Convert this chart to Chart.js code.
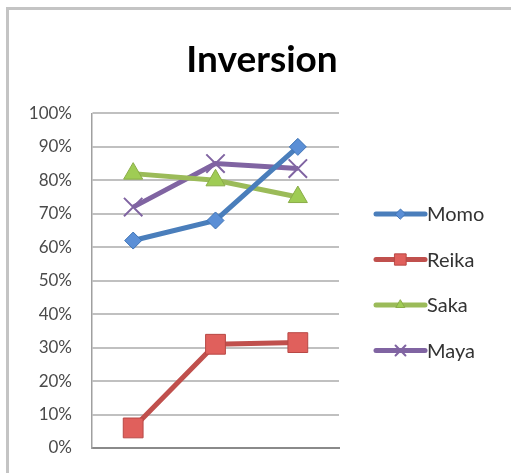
<!DOCTYPE html>
<html>
<head>
<meta charset="utf-8">
<script src="https://cdn.jsdelivr.net/npm/chart.js@4"></script>
<style>
  html, body { margin: 0; padding: 0; background: #fff; overflow: hidden; }
  canvas { display: block; }
</style>
</head>
<body>
<canvas id="c" width="511" height="473"></canvas>
<script>
// Series values (percent) per session
const categories = ['1', '2', '3'];
const momo  = [62, 68, 90];
const reika = [6, 31, 31.5];
const saka  = [82, 80, 75];
const maya  = [72, 85, 83.5];
const yTicks = [0, 10, 20, 30, 40, 50, 60, 70, 80, 90, 100];

const FONT = 'Lato, "Open Sans", sans-serif';

const series = [
  { label: 'Momo',  data: momo,  line: '#4a7ebb', fill: '#5b8fd6', edge: '#3f74b5', style: 'rectRot',  r: 8.5, lr: 5 },
  { label: 'Reika', data: reika, line: '#c0504d', fill: '#e0605c', edge: '#b84845', style: 'rect',     r: 14,  lr: 8 },
  { label: 'Saka',  data: saka,  line: '#9bbb59', fill: '#9fcc54', edge: '#8aac48', style: 'triangle', r: 11,  lr: 5 },
  { label: 'Maya',  data: maya,  line: '#8064a2', fill: '#8064a2', edge: '#8064a2', style: 'crossRot', r: 13,  lr: 7 }
];

// Grey frame along the top and left edges of the chart box
const frame = {
  id: 'frame',
  beforeDraw(chart) {
    const ctx = chart.ctx;
    ctx.save();
    ctx.fillStyle = '#ffffff';
    ctx.fillRect(0, 0, chart.width, chart.height);
    ctx.fillStyle = '#c4c4c4';
    ctx.fillRect(6, 7, chart.width - 6, 3);
    ctx.fillRect(6, 7, 3, chart.height - 7);
    ctx.restore();
  }
};

// Legend on the right: line sample with its marker, then the name
const sideLegend = {
  id: 'sideLegend',
  afterDraw(chart) {
    const ctx = chart.ctx;
    const x0 = 376, x1 = 425, top = 214, step = 45.5;
    chart.data.datasets.forEach((ds, i) => {
      const s = series[i];
      const y = top + i * step;
      ctx.save();
      ctx.strokeStyle = ds.borderColor;
      ctx.lineWidth = 5;
      ctx.lineCap = 'round';
      ctx.beginPath();
      ctx.moveTo(x0, y);
      ctx.lineTo(x1, y);
      ctx.stroke();
      ctx.fillStyle = ds.pointBackgroundColor;
      ctx.strokeStyle = ds.pointBorderColor;
      ctx.lineWidth = s.style === 'crossRot' ? 2 : 1;
      Chart.helpers.drawPoint(ctx, { pointStyle: s.style, radius: s.lr, rotation: 0, borderWidth: ctx.lineWidth }, (x0 + x1) / 2, y);
      ctx.fillStyle = '#333333';
      ctx.font = '20px ' + FONT;
      ctx.textBaseline = 'middle';
      ctx.textAlign = 'left';
      ctx.fillText(ds.label, x1 + 2, y + 1);
      ctx.restore();
    });
  }
};

new Chart(document.getElementById('c'), {
  type: 'line',
  data: {
    labels: categories,
    datasets: series.map(s => ({
      label: s.label,
      data: s.data,
      borderColor: s.line,
      borderWidth: 5,
      pointStyle: s.style,
      pointRadius: s.r,
      pointBackgroundColor: s.fill,
      pointBorderColor: s.edge,
      pointBorderWidth: s.style === 'crossRot' ? 2 : 1,
      tension: 0
    }))
  },
  options: {
    responsive: false,
    animation: false,
    events: [],
    layout: { padding: { left: 13, right: 0, top: 0, bottom: 25 } },
    plugins: {
      legend: { display: false },
      tooltip: { enabled: false },
      title: {
        display: true,
        text: 'Inversion',
        color: '#000000',
        font: { family: FONT, size: 37, weight: 'bold' },
        padding: { top: 38, bottom: 31 }
      }
    },
    scales: {
      x: {
        offset: true,
        grid: { display: false },
        border: { display: true, color: '#8a8a8a', width: 2 },
        ticks: { display: false },
        afterFit(s) { s.height = 0; }
      },
      y: {
        min: 0,
        max: 100,
        afterBuildTicks(s) { s.ticks = yTicks.map(v => ({ value: v })); },
        // invisible tick marks keep the labels clear of the axis
        grid: { color: '#c0c0c0', lineWidth: 2, drawTicks: true, tickLength: 20, tickColor: 'rgba(0,0,0,0)' },
        border: { display: true, color: '#a0a0a0', width: 1.5 },
        ticks: {
          padding: 0,
          color: '#4a4a4a',
          font: { family: FONT, size: 17 },
          callback: v => v + '%'
        },
        afterFit(s) { s.width = 79; }
      },
      side: {
        type: 'linear',
        position: 'right',
        display: true,
        grid: { display: false },
        border: { display: false },
        ticks: { display: false },
        afterFit(s) { s.width = 172; }
      }
    }
  },
  plugins: [frame, sideLegend]
});
</script>
</body>
</html>
